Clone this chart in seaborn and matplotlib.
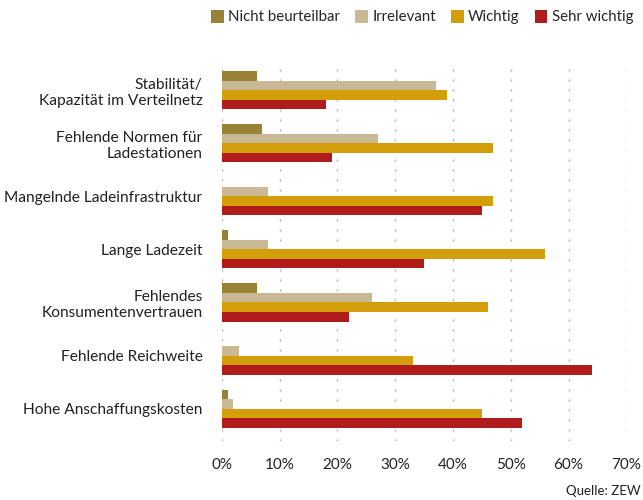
import matplotlib
matplotlib.use("Agg")
import matplotlib.pyplot as plt
import seaborn as sns
import pandas as pd

# data (percent)
categories = [
    "Stabilität/\nKapazität im Verteilnetz",
    "Fehlende Normen für\nLadestationen",
    "Mangelnde Ladeinfrastruktur",
    "Lange Ladezeit",
    "Fehlendes\nKonsumentenvertrauen",
    "Fehlende Reichweite",
    "Hohe Anschaffungskosten",
]
series = ["Nicht beurteilbar", "Irrelevant", "Wichtig", "Sehr wichtig"]
nicht_beurteilbar = [6, 7, 0, 1, 6, 0, 1]
irrelevant = [37, 27, 8, 8, 26, 3, 2]
wichtig = [39, 47, 47, 56, 46, 33, 45]
sehr_wichtig = [18, 19, 45, 35, 22, 64, 52]
xticks = [0, 10, 20, 30, 40, 50, 60, 70]

colors = ["#978238", "#c8b994", "#d49d0a", "#b01c1c"]

rows = []
for name, vals in zip(series, [nicht_beurteilbar, irrelevant, wichtig, sehr_wichtig]):
    for cat, v in zip(categories, vals):
        rows.append({"Kategorie": cat, "Wert": v, "Serie": name})
df = pd.DataFrame(rows)

sns.set_style("white")
plt.rcParams["font.family"] = ["Lato", "DejaVu Sans"]

fig = plt.figure(figsize=(6.43, 5.0), dpi=100)
ax = fig.add_axes([0.345, 0.118, 0.629, 0.758])

sns.barplot(data=df, x="Wert", y="Kategorie", hue="Serie", order=categories,
            hue_order=series, palette=colors, orient="h", width=0.72,
            saturation=1, linewidth=0, ax=ax, legend=True)

ax.set_xlim(0, 70)
ax.set_ylim(6.61, -0.53)
ax.set_xticks(xticks)
ax.set_xticklabels([f"{t}%" for t in xticks], fontsize=11, color="#222222")
ax.tick_params(axis="y", labelsize=11.2, labelcolor="#222222", length=0, pad=14)
ax.tick_params(axis="x", length=0, pad=12)
ax.set_xlabel(None)
ax.set_ylabel(None)
for lbl in ax.get_yticklabels():
    lbl.set_multialignment("right")
for s in ax.spines.values():
    s.set_visible(False)
ax.xaxis.grid(True, color="#b0b0b0", linewidth=1, linestyle=(0, (1.5, 5.7)))
ax.set_axisbelow(True)

handles, labels = ax.get_legend_handles_labels()
ax.legend_.remove()
fig.legend(handles, labels, loc="upper right", bbox_to_anchor=(1.0, 1.0),
           ncol=4, frameon=False, fontsize=10.8, handlelength=0.85,
           handleheight=0.95, handletextpad=0.3, columnspacing=1.0,
           borderaxespad=0.25)

fig.text(0.997, 0.006, "Quelle: ZEW", ha="right", va="bottom",
         fontsize=9.5, color="#222222")

fig.savefig("out.png", dpi=100)
